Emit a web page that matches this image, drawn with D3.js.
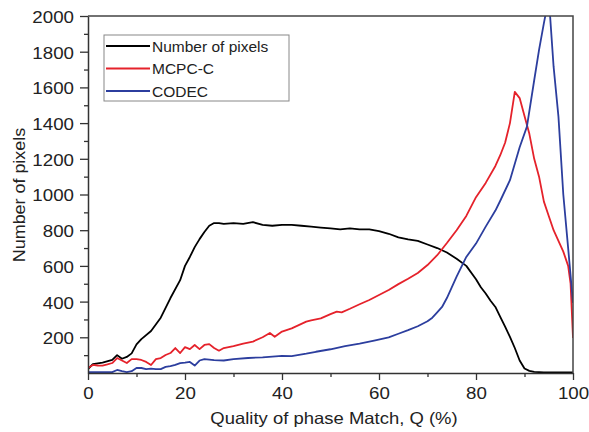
<!DOCTYPE html>
<html>
<head>
<meta charset="utf-8">
<script src="https://cdn.jsdelivr.net/npm/d3@7"></script>
<style>
  body { margin: 0; background: #fff; }
  text { font-family: "Liberation Sans", Arial, sans-serif; fill: #222; }
</style>
</head>
<body>
<svg width="589" height="432"></svg>
<script>
// Number of pixels
const qPixels = [0,1,3,5,6,7,8,9,10,11,13,15,17,19,20,21,22,23,24,25,26,27,28,30,32,34,36,38,40,42,44,46,48,50,52,54,56,58,60,62,64,66,68,70,72,74,76,78,80,81,82,83,84,85,86,87,88,89,90,91,92,94,96,98,100];
const nPixels = [22,50,58,73,100,80,90,110,160,190,235,310,420,520,600,650,705,750,790,825,840,840,835,840,835,845,830,825,830,830,825,820,815,810,805,810,805,805,795,780,760,748,740,720,700,675,640,600,525,480,445,405,370,314,260,202,140,70,25,12,6,4,3,3,3];

// MCPC-C
const qMcpc = [0,1,2,3,4,5,6,7,8,9,10,11,12,13,14,15,16,17,18,19,20,21,22,23,24,25,26,27,28,30,32,34,36,37.5,38.5,40,42,44,45,46,48,50,51.3,52.3,54,56,58,60,62,64,66,68,70,72,74,76,78,80,82,84,85,86,87,88,89,90,91,92,93,94,95,96,97,98,99,99.5,100];
const nMcpc = [28,45,42,41,48,56,84,70,56,78,78,73,62,45,78,84,101,112,140,112,145,134,157,134,157,162,140,125,140,151,165,176,200,224,203,232,250,275,288,295,306,330,344,340,360,385,409,437,465,498,528,560,605,660,728,800,880,985,1065,1160,1220,1290,1400,1575,1540,1440,1340,1200,1100,960,880,800,740,680,600,500,196];

// CODEC
const qCodec = [0,2,5,6,7,8,9,10,11,12,13,14,15,16,17,18,19,20,21,22,23,24,26,28,30,33,36,40,42,45,47,50,53,56,59,62,64,66,68,70,71,72,73,74,75,76,78,80,82,84,85,87,89,90.5,92,93,94,94.5,95.2,96,97,98,99,100];
const nCodec = [5,5,5,17,10,5,10,28,28,22,24,22,22,34,39,45,55,58,62,42,70,78,72,70,78,84,88,96,95,108,119,133,150,165,182,200,220,240,262,290,310,340,370,420,480,540,650,725,820,910,965,1080,1265,1380,1640,1810,1960,2030,2030,1716,1436,1000,700,393];

const xTicks = [0,20,40,60,80,100];
const yTicks = [200,400,600,800,1000,1200,1400,1600,1800,2000];
const legendLabels = ["Number of pixels","MCPC-C","CODEC"];
const colors = ["#000000","#e5222b","#2c3e9e"];

const margin = {top: 16, right: 16, bottom: 59, left: 88},
      width = 589 - margin.left - margin.right,
      height = 432 - margin.top - margin.bottom;

const svg = d3.select("svg");
const g = svg.append("g").attr("transform", `translate(${margin.left},${margin.top})`);

const x = d3.scaleLinear().domain([0, 100]).range([0, width]);
const y = d3.scaleLinear().domain([0, 2000]).range([height, 0]);

const sx = 1.17;
function stretch(sel) {
  sel.each(function() {
    const t = d3.select(this);
    const x0 = +(t.attr("x") || 0);
    t.attr("x", x0 / sx).attr("transform", `scale(${sx},1)`);
  });
}

// clip
svg.append("clipPath").attr("id", "clip")
  .append("rect").attr("width", width).attr("height", height);

// lines
const series = [[qPixels, nPixels], [qMcpc, nMcpc], [qCodec, nCodec]];
const line = d3.line().x(d => x(d[0])).y(d => y(d[1]));
series.forEach((s, i) => {
  g.append("path")
    .attr("clip-path", "url(#clip)")
    .datum(d3.zip(s[0], s[1]))
    .attr("fill", "none")
    .attr("stroke", colors[i])
    .attr("stroke-width", 1.8)
    .attr("stroke-linejoin", "round")
    .attr("d", line);
});

// minor ticks
g.append("g").attr("transform", `translate(0,${height})`)
  .call(d3.axisBottom(x).tickValues([10,30,50,70,90]).tickSize(4).tickFormat(""))
  .call(a => a.select(".domain").remove());
g.append("g")
  .call(d3.axisLeft(y).tickValues(d3.range(100, 2000, 200)).tickSize(4).tickFormat(""))
  .call(a => a.select(".domain").remove());

// major axes
const xAxis = g.append("g").attr("transform", `translate(0,${height})`)
  .call(d3.axisBottom(x).tickValues(xTicks).tickSize(7).tickPadding(8).tickSizeOuter(0));
xAxis.selectAll("text").style("font-size", "16px");
stretch(xAxis.selectAll("text"));

const yAxis = g.append("g")
  .call(d3.axisLeft(y).tickValues(yTicks).tickFormat(d3.format("d"))
    .tickSize(8).tickPadding(6).tickSizeOuter(0));
yAxis.selectAll("text").style("font-size", "16px").attr("dy", "0.4em");
stretch(yAxis.selectAll("text"));

g.selectAll(".tick line").attr("stroke", "#333").attr("stroke-width", 1.3);
g.selectAll(".domain").attr("stroke", "#333").attr("stroke-width", 1.5);

// top and right frame
g.append("path")
  .attr("d", `M0,0H${width}V${height}`)
  .attr("fill", "none").attr("stroke", "#444").attr("stroke-width", 1.5);

// axis titles
svg.append("text")
  .attr("transform", `translate(334,424) scale(1.12,1)`)
  .attr("text-anchor", "middle")
  .style("font-size", "16.5px")
  .text("Quality of phase Match, Q (%)");

svg.append("text")
  .attr("transform", `translate(25,195) rotate(-90) scale(1.12,1)`)
  .attr("text-anchor", "middle")
  .style("font-size", "16px")
  .text("Number of pixels");

// legend
const lg = svg.append("g").attr("transform", "translate(104,35)");
lg.append("rect").attr("width", 185).attr("height", 66)
  .attr("fill", "#fff").attr("stroke", "#888").attr("stroke-width", 1);
legendLabels.forEach((lab, i) => {
  const yy = 11 + i * 22.5;
  lg.append("line").attr("x1", 2).attr("x2", 46).attr("y1", yy).attr("y2", yy)
    .attr("stroke", colors[i]).attr("stroke-width", 1.8);
  lg.append("text").attr("x", 48).attr("y", yy).attr("dy", "0.36em")
    .style("font-size", "15.5px").text(lab);
});
</script>
</body>
</html>
